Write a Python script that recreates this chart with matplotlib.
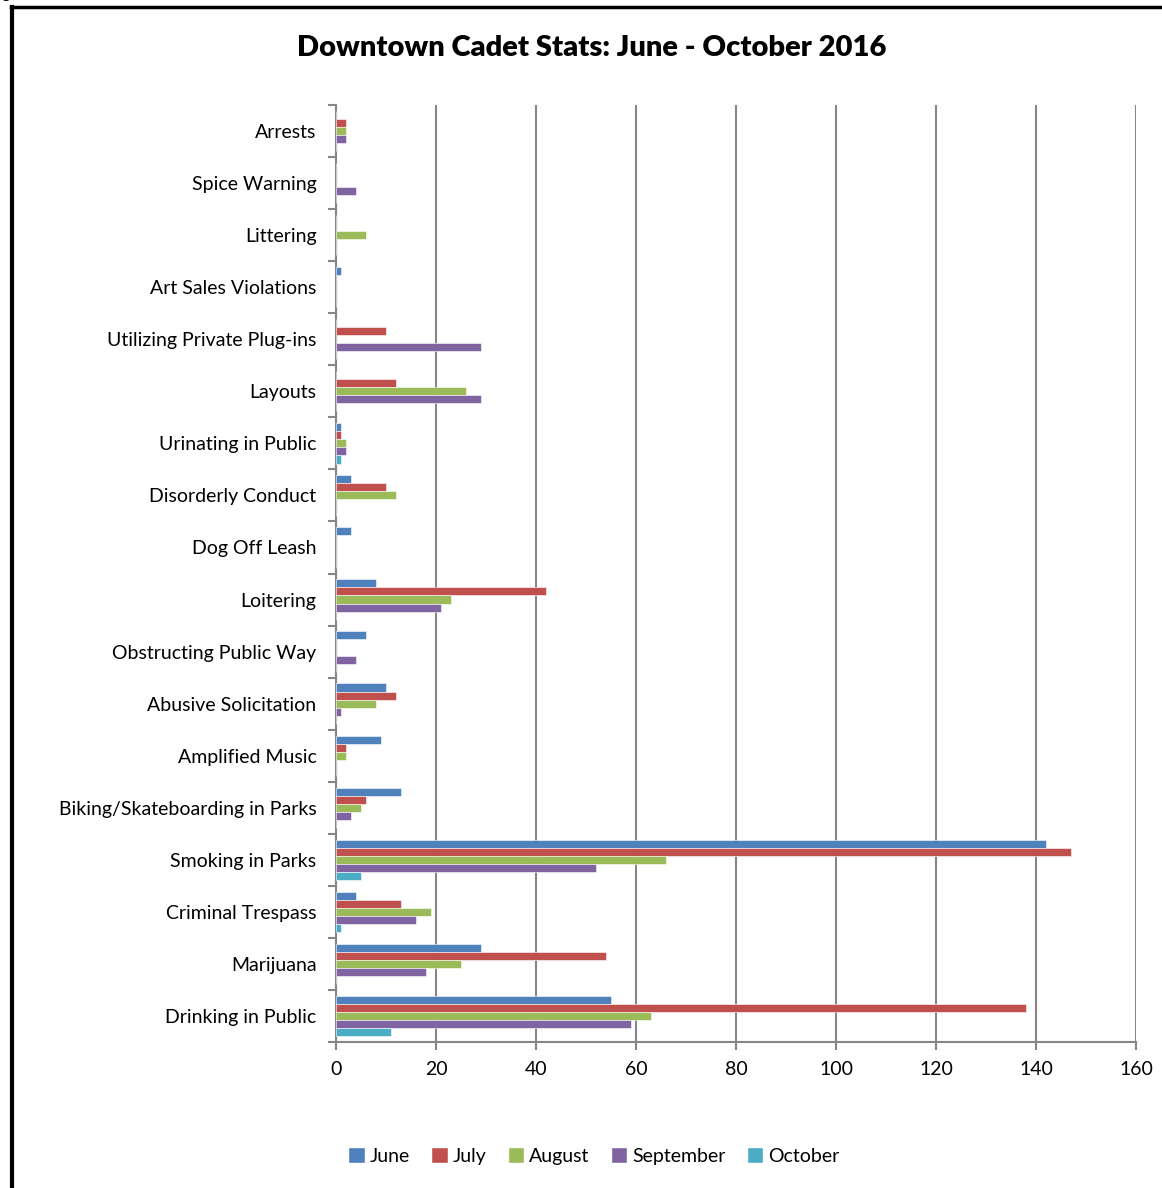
import numpy as np
import matplotlib.pyplot as plt
from matplotlib.patches import Patch

categories = ["Arrests", "Spice Warning", "Littering", "Art Sales Violations",
              "Utilizing Private Plug-ins", "Layouts", "Urinating in Public",
              "Disorderly Conduct", "Dog Off Leash", "Loitering",
              "Obstructing Public Way", "Abusive Solicitation", "Amplified Music",
              "Biking/Skateboarding in Parks", "Smoking in Parks",
              "Criminal Trespass", "Marijuana", "Drinking in Public"]

months = ["June", "July", "August", "September", "October"]

june = [0, 0, 0, 1, 0, 0, 1, 3, 3, 8, 6, 10, 9, 13, 142, 4, 29, 55]
july = [2, 0, 0, 0, 10, 12, 1, 10, 0, 42, 0, 12, 2, 6, 147, 13, 54, 138]
august = [2, 0, 6, 0, 0, 26, 2, 12, 0, 23, 0, 8, 2, 5, 66, 19, 25, 63]
september = [2, 4, 0, 0, 29, 29, 2, 0, 0, 21, 4, 1, 0, 3, 52, 16, 18, 59]
october = [0, 0, 0, 0, 0, 0, 1, 0, 0, 0, 0, 0, 0, 0, 5, 1, 0, 11]

colors = ["#4F81BD", "#C0504D", "#9BBB59", "#8064A2", "#4BACC6"]
series = [june, july, august, september, october]

plt.rcParams['font.family'] = ['Lato', 'DejaVu Sans']

fig = plt.figure(figsize=(11.62, 11.88), dpi=100)
ax = fig.add_axes([0.2892, 0.1229, 0.6885, 0.7887])

n = len(categories)
y = np.arange(n)
bh = 0.155
for i, (vals, c) in enumerate(zip(series, colors)):
    offs = (i - 2) * bh
    ax.barh(y + offs, vals, height=bh, color=c, edgecolor='white', linewidth=0.4, zorder=3)

ax.set_ylim(n - 0.5, -0.5)
ax.set_xlim(0, 160)
ax.set_xticks(np.arange(0, 161, 20))
ax.set_yticks(y)
ax.set_yticklabels(categories, fontsize=14)
ax.set_yticks(np.arange(-0.5, n, 1), minor=True)
ax.tick_params(axis='y', which='major', length=0, pad=14)
ax.tick_params(axis='y', which='minor', length=6, width=1.5, color='#868686', direction='out')
ax.tick_params(axis='x', length=6, width=1.5, color='#868686', labelsize=14, pad=8)

ax.grid(axis='x', color='#868686', linewidth=1.5, zorder=0)
for s in ['top', 'right']:
    ax.spines[s].set_visible(False)
for s in ['left', 'bottom']:
    ax.spines[s].set_color('#868686')
    ax.spines[s].set_linewidth(1.5)

fig.text(0.509, 0.960, "Downtown Cadet Stats: June - October 2016",
         ha='center', va='center', fontsize=21, fontweight='heavy')

handles = [Patch(facecolor=c, edgecolor='white') for c in colors]
fig.legend(handles, months, loc='center', bbox_to_anchor=(0.511, 0.027), ncol=5,
           frameon=False, fontsize=14, handlelength=0.85, handleheight=0.85,
           handletextpad=0.25, columnspacing=1.1)

# page border fragments
fig.add_artist(plt.Line2D([0.0103, 0.0103], [0, 0.9945], color='black', linewidth=3,
                          transform=fig.transFigure))
fig.add_artist(plt.Line2D([0.0095, 1.0], [0.9940, 0.9940], color='black', linewidth=2.5,
                          transform=fig.transFigure))
fig.text(0.001, 1.002, "g", fontsize=12, va='baseline', ha='left')

fig.savefig("out.png", dpi=100)
